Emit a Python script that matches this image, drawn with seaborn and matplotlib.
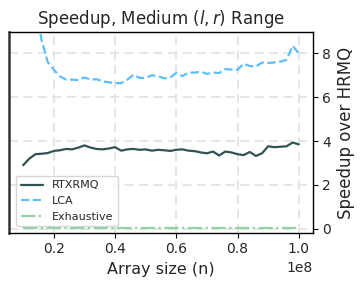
import numpy as np
import pandas as pd
import matplotlib
matplotlib.use("Agg")
import matplotlib.pyplot as plt
import seaborn as sns

# Array sizes (in units of 1e8)
sizes = [0.10, 0.12, 0.14, 0.16, 0.18, 0.20, 0.22, 0.24, 0.26, 0.28,
         0.30, 0.32, 0.34, 0.36, 0.38, 0.40, 0.42, 0.44, 0.46, 0.48,
         0.50, 0.52, 0.54, 0.56, 0.58, 0.60, 0.62, 0.64, 0.66, 0.68,
         0.70, 0.72, 0.74, 0.76, 0.78, 0.80, 0.82, 0.84, 0.86, 0.88,
         0.90, 0.92, 0.94, 0.96, 0.98, 1.00]

rtxrmq = [2.90, 3.20, 3.40, 3.42, 3.45, 3.55, 3.58, 3.64, 3.62, 3.70,
          3.80, 3.70, 3.64, 3.62, 3.66, 3.72, 3.56, 3.62, 3.64, 3.60,
          3.62, 3.56, 3.60, 3.58, 3.55, 3.60, 3.62, 3.56, 3.54, 3.48,
          3.44, 3.52, 3.34, 3.52, 3.48, 3.40, 3.36, 3.50, 3.32, 3.44,
          3.76, 3.72, 3.74, 3.76, 3.93, 3.85]

lca = [16.0, 12.8, 10.2, 8.60, 7.60, 7.25, 6.95, 6.80, 6.80, 6.78,
       6.90, 6.80, 6.82, 6.72, 6.68, 6.64, 6.64, 6.80, 7.02, 6.88,
       6.88, 7.00, 6.96, 6.86, 6.90, 7.10, 6.96, 7.12, 7.12, 7.16,
       7.06, 7.12, 7.10, 7.28, 7.26, 7.25, 7.52, 7.42, 7.40, 7.58,
       7.56, 7.58, 7.62, 7.70, 8.34, 8.00]

exhaustive = [0.03, 0.03, 0.03, 0.03, 0.03, 0.03, 0.03, 0.03, 0.03, 0.03,
              0.03, 0.03, 0.03, 0.03, 0.03, 0.03, 0.03, 0.03, 0.03, 0.03,
              0.03, 0.03, 0.03, 0.03, 0.03, 0.03, 0.03, 0.03, 0.03, 0.03,
              0.03, 0.03, 0.03, 0.03, 0.03, 0.03, 0.03, 0.03, 0.03, 0.03,
              0.03, 0.03, 0.03, 0.03, 0.03, 0.03]

series_names = ["RTXRMQ", "LCA", "Exhaustive"]
colors = ["#2f5451", "#5cbefa", "#8fd4a2"]
styles = ["-", "--", "-."]

x_ticks = [0.2, 0.4, 0.6, 0.8, 1.0]
y_ticks = [0, 2, 4, 6, 8]

sns.set_theme(style="white")
plt.rcParams['font.family'] = ['DejaVu Sans']

n = len(sizes)
df = pd.DataFrame({
    "size": np.array(sizes * 3) * 1e8,
    "speedup": rtxrmq + lca + exhaustive,
    "method": ["RTXRMQ"] * n + ["LCA"] * n + ["Exhaustive"] * n,
})

fig = plt.figure(figsize=(3.63, 2.88), dpi=100)
ax = fig.add_axes([0.026, 0.192, 0.835, 0.696])

for name, c, ls in zip(series_names, colors, styles):
    sub = df[df["method"] == name]
    sns.lineplot(data=sub, x="size", y="speedup", ax=ax, color=c,
                 linestyle=ls, linewidth=1.6, label=name)

ax.set_ylim(-0.18, 8.96)
ax.set_xticks([t * 1e8 for t in x_ticks])
ax.set_yticks(y_ticks)
ax.yaxis.tick_right()
ax.yaxis.set_label_position("right")
ax.grid(True, linestyle=(0, (5, 3)), color="#e3e3e3", linewidth=1.3)
ax.set_axisbelow(True)

for side in ["top", "right", "bottom"]:
    ax.spines[side].set_color("black")
    ax.spines[side].set_linewidth(1.0)
ax.spines["left"].set_color("#333333")
ax.spines["left"].set_linewidth(1.8)

ax.tick_params(axis="both", which="major", labelsize=10, length=3.5,
               width=0.8, color="black", direction="out",
               bottom=True, right=True, left=False)
ax.xaxis.get_offset_text().set_fontsize(10)

ax.set_title("Speedup, Medium ($l, r$) Range", fontsize=12)
ax.set_xlabel("Array size (n)", fontsize=11.5)
ax.set_ylabel("Speedup over HRMQ", fontsize=12)

leg = ax.legend(loc="lower left", fontsize=8, frameon=True,
                borderaxespad=0.6)
leg.get_frame().set_edgecolor("#cccccc")

fig.savefig("out.png", dpi=100)
